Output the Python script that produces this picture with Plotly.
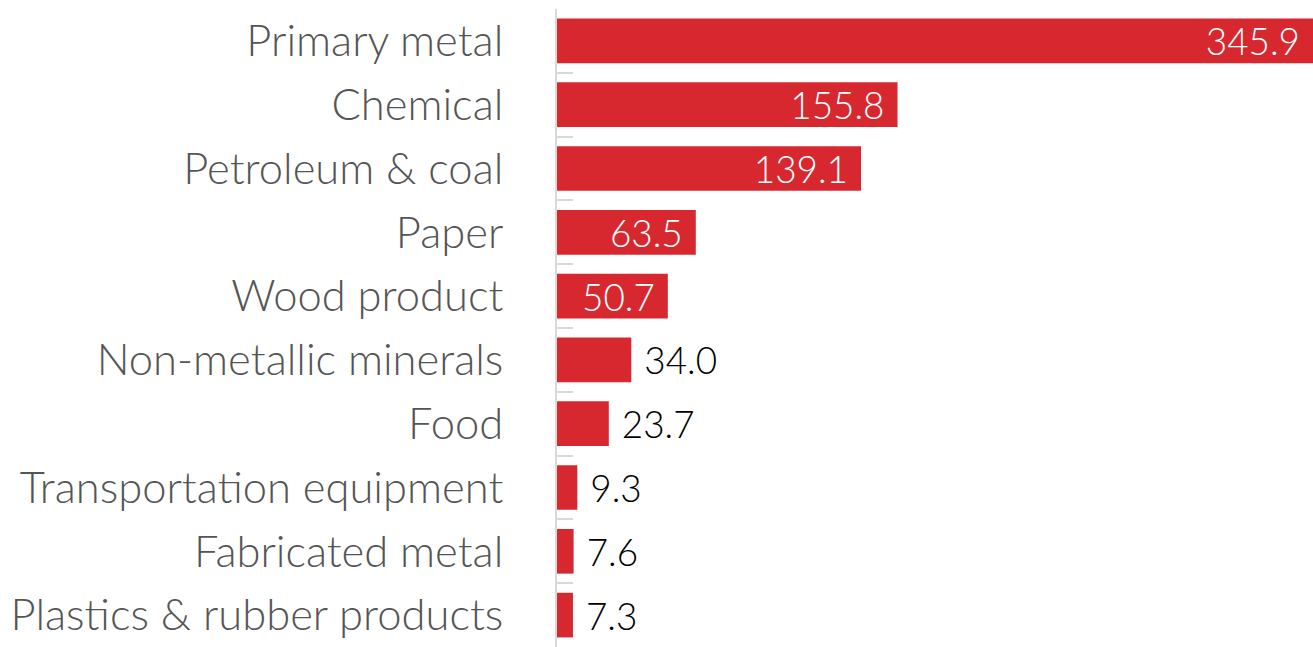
import plotly.graph_objects as go

# Industry categories, top to bottom
industries = [
    "Primary metal",
    "Chemical",
    "Petroleum & coal",
    "Paper",
    "Wood product",
    "Non-metallic minerals",
    "Food",
    "Transportation equipment",
    "Fabricated metal",
    "Plastics & rubber products",
]
values = [345.9, 155.8, 139.1, 63.5, 50.7, 34.0, 23.7, 9.3, 7.6, 7.3]

BAR_COLOR = "#d7282f"
NBSP = "\u00a0"
INSIDE_MIN = 40  # bars at least this long carry their label inside

texts = []
positions = []
colors = []
for v in values:
    if v >= INSIDE_MIN:
        texts.append(f"{v:.1f}" + NBSP)
        positions.append("inside")
        colors.append("white")
    else:
        texts.append(NBSP + f"{v:.1f}")
        positions.append("outside")
        colors.append("black")

fig = go.Figure(
    go.Bar(
        x=values,
        y=industries,
        orientation="h",
        marker=dict(color=BAR_COLOR, line=dict(width=0)),
        text=texts,
        textposition=positions,
        insidetextanchor="end",
        textfont=dict(family="Lato", size=38, color=colors, weight=300),
        cliponaxis=False,
        hoverinfo="skip",
    )
)

fig.update_layout(
    width=1313,
    height=647,
    margin=dict(l=557, r=0, t=9, b=0),
    paper_bgcolor="white",
    plot_bgcolor="white",
    bargap=0.3,
    showlegend=False,
    uniformtext=dict(minsize=36, mode="show"),
    font=dict(family="Lato"),
)

fig.update_xaxes(
    range=[0, 345.9],
    visible=False,
    showgrid=False,
    zeroline=False,
)

fig.update_yaxes(
    autorange="reversed",
    showline=True,
    linecolor="#d9d9d9",
    linewidth=2,
    ticks="inside",
    ticklen=16,
    tickwidth=2,
    tickcolor="#d9d9d9",
    tickson="boundaries",
    showgrid=False,
    tickfont=dict(family="Lato", size=43.5, color="#555555", weight=300),
    ticklabelstandoff=43,
)

fig.write_html("out.html")
